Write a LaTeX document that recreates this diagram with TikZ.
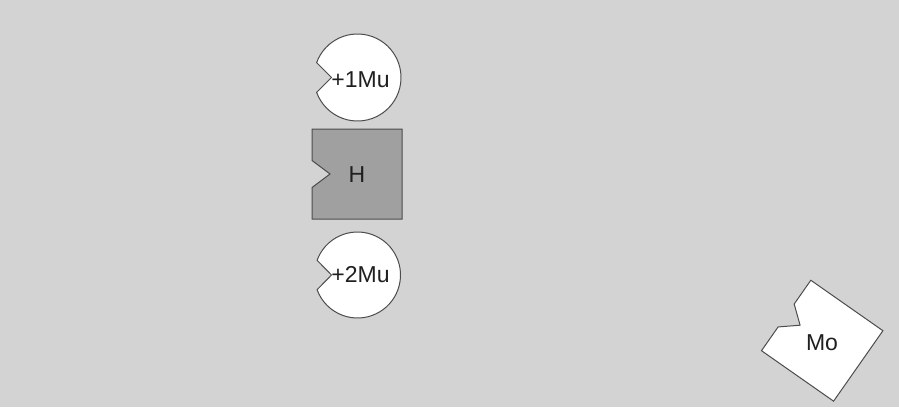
\documentclass[tikz,border=0pt]{standalone}
\usepackage{fontspec}
\setmainfont{Liberation Sans}
\begin{document}
\begin{tikzpicture}[x=1pt,y=1pt,
  piece/.style={draw=black!70,line width=1pt,line join=miter},
  lbl/.style={inner sep=0pt,text=black!88,font=\fontsize{23}{27}\selectfont}]
\definecolor{bgc}{HTML}{D3D3D3}
\definecolor{hfill}{HTML}{A0A0A0}
\fill[bgc] (0,0) rectangle (899,-407);
\useasboundingbox (0,0) rectangle (899,-407);
% +1Mu
\begin{scope}[shift={(357.5,-77.5)}]
  \path[piece,fill=white] (160:43.5) arc[start angle=160,end angle=-160,radius=43.5] -- (-26,0) -- cycle;
\end{scope}
% H
\begin{scope}[shift={(357,-174)}]
  \path[piece,fill=hfill] (-45,45) -- (45,45) -- (45,-45) -- (-45,-45) -- (-45,-13.5) -- (-27,0) -- (-45,13.5) -- cycle;
\end{scope}
% +2Mu
\begin{scope}[shift={(357.5,-275)}]
  \path[piece,fill=white] (160:43) arc[start angle=160,end angle=-160,radius=43] -- (-26,0) -- cycle;
\end{scope}
% Mo
\begin{scope}[shift={(822.2,-340.7)},rotate=-35]
  \path[piece,fill=white] (-44,43) -- (44,43) -- (44,-43) -- (-44,-43) -- (-44,-14) -- (-27,0) -- (-44,14) -- cycle;
\end{scope}
\node[lbl] (mu1) at (360.5,-80) {+1Mu};
\node[lbl] (h) at (357,-175) {H};
\node[lbl] (mu2) at (360.5,-275) {+2Mu};
\node[lbl] (mo) at (822,-343) {Mo};
\end{tikzpicture}
\end{document}
